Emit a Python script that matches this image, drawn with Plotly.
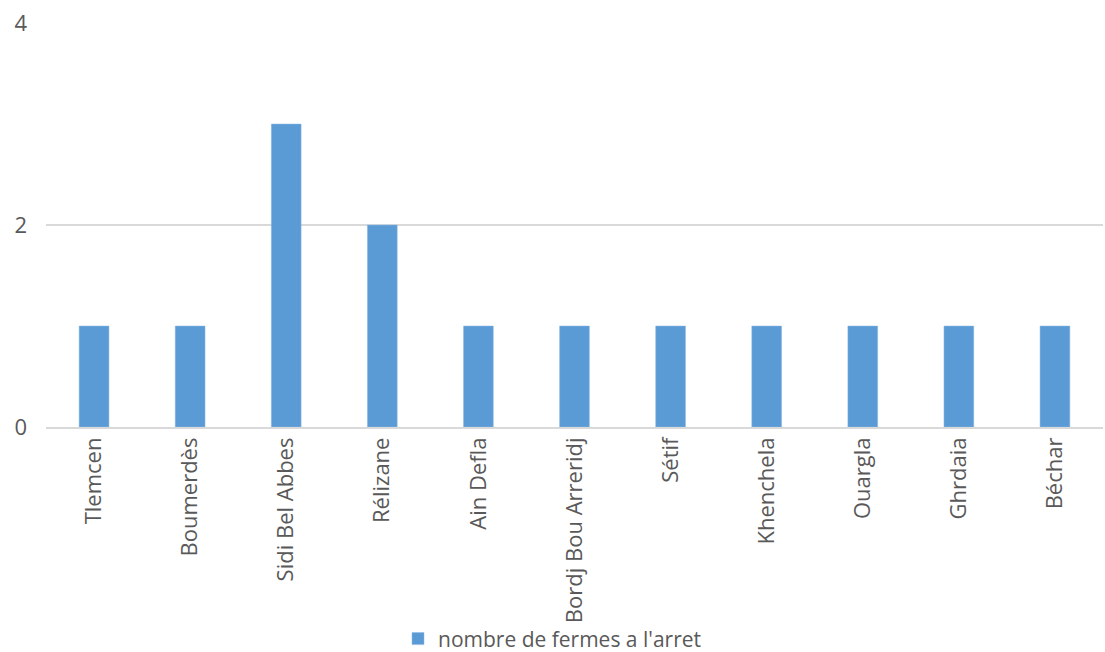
import plotly.graph_objects as go

categories = ["Tlemcen", "Boumerdès", "Sidi Bel Abbes", "Rélizane", "Ain Defla",
              "Bordj Bou Arreridj", "Sétif", "Khenchela", "Ouargla", "Ghrdaia", "Béchar"]
values = [1, 1, 3, 2, 1, 1, 1, 1, 1, 1, 1]
series_name = "nombre de fermes a l'arret"

fig = go.Figure()
fig.add_trace(go.Bar(x=categories, y=values, name=series_name,
                     marker=dict(color="#5B9BD5", line=dict(color="#8DB8E2", width=0.5))))

fig.update_layout(
    width=1105, height=652,
    margin=dict(l=46, r=2, t=23, b=225, autoexpand=False),
    paper_bgcolor="white", plot_bgcolor="white",
    bargap=0.69,
    font=dict(family="Open Sans, Liberation Sans, sans-serif", size=21, color="#595959"),
    showlegend=True,
    legend=dict(orientation="h", x=0.5, xanchor="center", xref="container",
                y=0.02, yanchor="middle", yref="container",
                bgcolor="rgba(0,0,0,0)", borderwidth=0,
                font=dict(size=21, color="#595959")),
    xaxis=dict(tickangle=-90, showgrid=False, showline=True, linecolor="#D9D9D9",
               linewidth=1.5, ticks="", tickfont=dict(size=22), automargin=False),
    yaxis=dict(range=[0, 4], tickvals=[0, 2, 4], showgrid=True, gridcolor="#D9D9D9",
               gridwidth=1.5, zeroline=False, ticks="", ticklabelstandoff=18,
               tickfont=dict(size=22), automargin=False),
)
fig.write_html("out.html")
